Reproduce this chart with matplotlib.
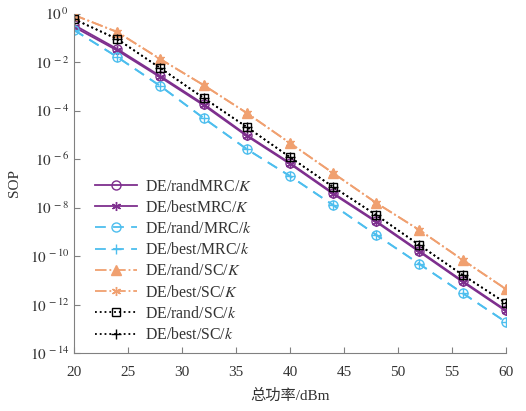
import numpy as np
import matplotlib
matplotlib.use('Agg')
import matplotlib.pyplot as plt

plt.rcParams['font.family'] = ['Liberation Serif', 'Noto Sans CJK SC']
plt.rcParams['mathtext.fontset'] = 'stix'
plt.rcParams['font.size'] = 10.5

# total power (dBm)
power = [20, 24, 28, 32, 36, 40, 44, 48, 52, 56, 60]

# log10(SOP)
log_rand_mrc_K = [-0.47, -1.46, -2.58, -3.73, -5.01, -6.16, -7.40, -8.56, -9.79, -11.03, -12.23]
log_best_mrc_K = [-0.55, -1.52, -2.63, -3.78, -5.05, -6.20, -7.44, -8.60, -9.83, -11.07, -12.27]
log_rand_mrc_k = [-0.68, -1.79, -2.99, -4.31, -5.59, -6.70, -7.90, -9.13, -10.33, -11.53, -12.72]
log_best_mrc_k = [-0.68, -1.79, -2.99, -4.31, -5.59, -6.70, -7.90, -9.13, -10.33, -11.53, -12.72]
log_rand_sc_K = [-0.06, -0.76, -1.88, -2.95, -4.10, -5.34, -6.58, -7.81, -8.93, -10.16, -11.36]
log_best_sc_K = [-0.06, -0.76, -1.88, -2.95, -4.10, -5.34, -6.58, -7.81, -8.93, -10.16, -11.36]
log_rand_sc_k = [-0.23, -1.05, -2.25, -3.48, -4.68, -5.92, -7.15, -8.31, -9.55, -10.78, -11.94]
log_best_sc_k = [-0.23, -1.05, -2.25, -3.48, -4.68, -5.92, -7.15, -8.31, -9.55, -10.78, -11.94]

purple = '#7E2F8E'
cyan = '#4DBEEE'
orange = '#F0A070'

fig = plt.figure(figsize=(5.26, 4.11), dpi=100)
ax = fig.add_axes([0.1407, 0.141, 0.821, 0.826])

def pw(v):
    return 10.0 ** np.array(v)

ax.plot(power, pw(log_rand_mrc_K), '-', color=purple, lw=1.3, marker='o', ms=6.5,
        mfc='none', mec=purple, label='DE/randMRC/$K$')
ax.plot(power, pw(log_best_mrc_K), '-', color=purple, lw=1.3, marker=(6, 2, 0), ms=6.5,
        mec=purple, label='DE/bestMRC/$K$')
ax.plot(power, pw(log_rand_mrc_k), '--', color=cyan, lw=1.3, dashes=(6, 4), marker='o', ms=6.5,
        mfc='none', mec=cyan, label='DE/rand/MRC/$k$')
ax.plot(power, pw(log_best_mrc_k), '--', color=cyan, lw=1.3, dashes=(6, 4), marker='+', ms=7,
        mec=cyan, label='DE/best/MRC/$k$')
ax.plot(power, pw(log_rand_sc_K), '-.', color=orange, lw=1.3, marker='^', ms=7,
        mfc=orange, mec=orange, label='DE/rand/SC/$K$')
ax.plot(power, pw(log_best_sc_K), '-.', color=orange, lw=1.3, marker=(6, 2, 0), ms=6.5,
        mec=orange, label='DE/best/SC/$K$')
ax.plot(power, pw(log_rand_sc_k), ':', color='black', lw=1.3, marker='s', ms=5.5,
        mfc='none', mec='black', label='DE/rand/SC/$k$')
ax.plot(power, pw(log_best_sc_k), ':', color='black', lw=1.3, marker='+', ms=7,
        mec='black', label='DE/best/SC/$k$')

ax.set_yscale('log')
ax.set_xlim(20, 60)
ax.set_ylim(1e-14, 1)
ax.set_xticks([20, 25, 30, 35, 40, 45, 50, 55, 60])
ax.set_yticks([10.0 ** e for e in range(-14, 1, 2)])
ax.set_yticklabels(['$10^{\\,%d}$' % e for e in range(-14, 1, 2)])
ax.yaxis.set_minor_locator(matplotlib.ticker.NullLocator())

for s in ['top', 'right']:
    ax.spines[s].set_visible(False)
for s in ['left', 'bottom']:
    ax.spines[s].set_color('#808080')
ax.tick_params(direction='in', color='#808080', length=4, labelcolor='#333333', labelsize=11)
ax.tick_params(axis='x', pad=9)

ax.set_xlabel('总功率/dBm', fontsize=11, color='#333333', labelpad=7)
ax.set_ylabel('SOP', fontsize=11, color='#333333', labelpad=6)

ax.legend(loc='upper left', bbox_to_anchor=(0.015, 0.556), frameon=False, fontsize=11.4,
          handlelength=2.7, handletextpad=0.45, labelspacing=0.33, labelcolor='#333333')

fig.savefig('out.png', dpi=100)
